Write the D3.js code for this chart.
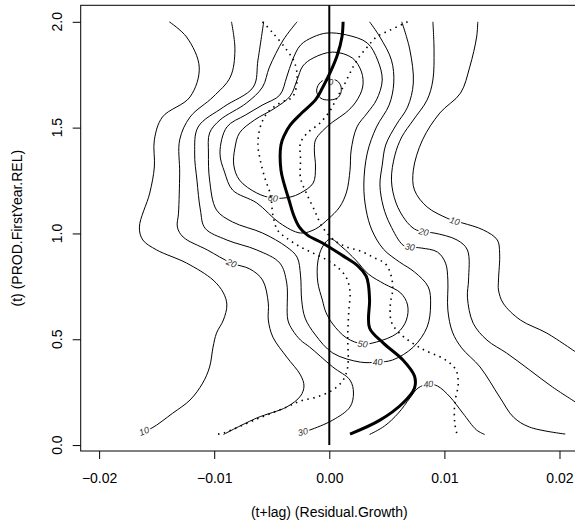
<!DOCTYPE html>
<html>
<head>
<meta charset="utf-8">
<script src="https://cdn.jsdelivr.net/npm/d3@7"></script>
<style>
  body { margin: 0; background: #fff; }
  text { font-family: "Liberation Sans", Arial, Helvetica, sans-serif; }
</style>
</head>
<body>
<svg id="chart" width="575" height="523"></svg>
<script>
// ---- axes ----
const xLim = [-0.02, 0.02];
const yLim = [0.05, 2.0];
const xTicks = [-0.02, -0.01, 0, 0.01, 0.02];
const yTicks = [0, 0.5, 1, 1.5, 2];
const xTitle = "(t+lag) (Residual.Growth)";
const yTitle = "(t) (PROD.FirstYear.REL)";

// ---- density contour lines, [x, y] ----
const level10Left = [[-0.0139,2.000],[-0.0124,1.928],[-0.0113,1.786],[-0.0121,1.645],[-0.0145,1.550],[-0.0152,1.442],[-0.0152,1.314],[-0.0156,1.191],[-0.0165,1.030],[-0.0162,0.969],[-0.0150,0.922],[-0.0124,0.860],[-0.0101,0.780],[-0.0092,0.719],[-0.0089,0.662],[-0.0092,0.591],[-0.0098,0.529],[-0.0101,0.463],[-0.0104,0.369],[-0.0110,0.293],[-0.0121,0.213],[-0.0136,0.151],[-0.0154,0.081],[-0.0161,0.066]];
const level20Left = [[-0.0085,2.000],[-0.0082,1.867],[-0.0086,1.739],[-0.0101,1.645],[-0.0121,1.550],[-0.0130,1.442],[-0.0130,1.285],[-0.0131,1.096],[-0.0132,1.030],[-0.0127,0.983],[-0.0106,0.922],[-0.0085,0.860],[-0.0069,0.832],[-0.0058,0.780],[-0.0053,0.671],[-0.0053,0.591],[-0.0049,0.510],[-0.0037,0.416],[-0.0025,0.331],[-0.0022,0.279],[-0.0025,0.232],[-0.0037,0.180],[-0.0063,0.128],[-0.0092,0.050]];
const level30Left = [[-0.0057,2.000],[-0.0062,1.819],[-0.0066,1.692],[-0.0092,1.597],[-0.0114,1.503],[-0.0117,1.380],[-0.0115,1.252],[-0.0112,1.111],[-0.0108,1.025],[-0.0089,0.969],[-0.0063,0.922],[-0.0043,0.860],[-0.0037,0.766],[-0.0036,0.591],[-0.0032,0.544],[-0.0025,0.496],[-0.0017,0.463],[0.0003,0.369],[0.0018,0.307],[0.0021,0.246],[0.0018,0.180],[0.0003,0.118],[-0.0017,0.071],[-0.0023,0.062]];
const level40 = [[-0.0028,2.000],[-0.0040,1.914],[-0.0052,1.786],[-0.0058,1.692],[-0.0072,1.616],[-0.0095,1.536],[-0.0104,1.475],[-0.0105,1.380],[-0.0104,1.252],[-0.0098,1.111],[-0.0084,1.054],[-0.0058,1.002],[-0.0037,0.936],[-0.0028,0.888],[-0.0025,0.803],[-0.0024,0.685],[-0.0021,0.600],[-0.0012,0.520],[0.0003,0.435],[0.0027,0.392],[0.0042,0.392],[0.0055,0.402],[0.0073,0.463],[0.0085,0.558],[0.0088,0.662],[0.0086,0.747],[0.0074,0.818],[0.0061,0.865],[0.0047,0.926],[0.0037,1.016],[0.0032,1.111],[0.0030,1.229],[0.0033,1.380],[0.0041,1.503],[0.0052,1.607],[0.0056,1.711],[0.0054,1.819],[0.0044,1.928],[0.0035,2.000]];
const level40Cap = [[0.0035,0.050],[0.0048,0.090],[0.0060,0.151],[0.0070,0.222],[0.0077,0.269],[0.0086,0.288],[0.0094,0.279],[0.0105,0.227],[0.0116,0.151],[0.0128,0.071],[0.0135,0.050]];
const level50Upper = [[-0.0095,1.380],[-0.0091,1.290],[-0.0084,1.205],[-0.0063,1.144],[-0.0043,1.049],[-0.0025,1.002],[-0.0012,1.021],[-0.0001,1.068],[0.0009,1.125],[0.0015,1.196],[0.0018,1.299],[0.0019,1.394],[0.0024,1.503],[0.0033,1.569],[0.0041,1.631],[0.0046,1.725],[0.0042,1.819],[0.0033,1.900],[0.0015,1.938],[-0.0002,1.947],[-0.0014,1.928],[-0.0025,1.890],[-0.0032,1.819],[-0.0037,1.739],[-0.0043,1.654],[-0.0058,1.607],[-0.0073,1.559],[-0.0089,1.503]];
const level50Lower = [[-0.0006,0.685],[-0.0010,0.770],[-0.0010,0.865],[-0.0006,0.936],[0.0001,0.974],[0.0011,0.936],[0.0023,0.874],[0.0034,0.808],[0.0048,0.761],[0.0062,0.719],[0.0068,0.662],[0.0067,0.591],[0.0059,0.529],[0.0041,0.487],[0.0029,0.478],[0.0015,0.506],[0.0003,0.572],[-0.0003,0.628]];
const level60 = [[-0.0014,1.829],[0.0003,1.857],[0.0020,1.829],[0.0028,1.763],[0.0029,1.692],[0.0023,1.621],[0.0014,1.569],[0.0003,1.527],[-0.0006,1.484],[-0.0012,1.442],[-0.0013,1.394],[-0.0012,1.314],[-0.0014,1.238],[-0.0025,1.191],[-0.0034,1.172],[-0.0049,1.167],[-0.0063,1.191],[-0.0078,1.252],[-0.0083,1.323],[-0.0082,1.404],[-0.0078,1.475],[-0.0065,1.536],[-0.0047,1.593],[-0.0034,1.649],[-0.0028,1.725],[-0.0023,1.791]];
const level70 = [[-0.0011,1.677],[-0.0009,1.706],[-0.0005,1.725],[0.0001,1.730],[0.0007,1.720],[0.0010,1.697],[0.0010,1.663],[0.0007,1.640],[0.0001,1.631],[-0.0006,1.635],[-0.0010,1.654]];
const level30Right = [[0.0063,2.000],[0.0070,1.867],[0.0073,1.711],[0.0068,1.597],[0.0058,1.512],[0.0049,1.418],[0.0046,1.323],[0.0044,1.229],[0.0047,1.125],[0.0053,1.040],[0.0064,0.945],[0.0070,0.936],[0.0080,0.931],[0.0094,0.912],[0.0101,0.860],[0.0103,0.780],[0.0103,0.638],[0.0107,0.534],[0.0115,0.459],[0.0131,0.369],[0.0148,0.227],[0.0160,0.132],[0.0174,0.085],[0.0205,0.052]];
const level20Right = [[0.0090,2.000],[0.0091,1.867],[0.0090,1.725],[0.0085,1.631],[0.0073,1.536],[0.0063,1.456],[0.0057,1.370],[0.0054,1.252],[0.0058,1.144],[0.0066,1.064],[0.0074,1.021],[0.0082,1.007],[0.0091,1.002],[0.0111,0.969],[0.0120,0.922],[0.0121,0.780],[0.0120,0.699],[0.0125,0.576],[0.0137,0.496],[0.0154,0.435],[0.0174,0.355],[0.0194,0.274],[0.0218,0.189]];
const level10Right = [[0.0129,2.000],[0.0128,1.928],[0.0122,1.786],[0.0114,1.663],[0.0096,1.569],[0.0081,1.442],[0.0073,1.299],[0.0074,1.205],[0.0085,1.125],[0.0102,1.073],[0.0109,1.059],[0.0116,1.049],[0.0134,1.016],[0.0146,0.969],[0.0148,0.907],[0.0147,0.780],[0.0147,0.733],[0.0151,0.671],[0.0166,0.591],[0.0189,0.529],[0.0218,0.425]];

// ---- conditional mode (thick) and quantile bands (dotted) ----
const modePath = [[0.0012,2.000],[0.0011,1.928],[0.0007,1.843],[0.0001,1.763],[-0.0006,1.687],[-0.0012,1.631],[-0.0024,1.569],[-0.0034,1.512],[-0.0039,1.465],[-0.0042,1.418],[-0.0042,1.299],[-0.0039,1.229],[-0.0035,1.158],[-0.0031,1.087],[-0.0026,1.030],[-0.0019,0.992],[-0.0006,0.955],[0.0012,0.894],[0.0025,0.846],[0.0032,0.799],[0.0034,0.756],[0.0035,0.685],[0.0035,0.553],[0.0047,0.482],[0.0064,0.402],[0.0074,0.326],[0.0074,0.269],[0.0064,0.199],[0.0044,0.118],[0.0018,0.052]];
const bandLower = [[-0.0058,2.000],[-0.0049,1.947],[-0.0037,1.867],[-0.0030,1.805],[-0.0028,1.725],[-0.0032,1.645],[-0.0043,1.616],[-0.0054,1.569],[-0.0060,1.503],[-0.0062,1.418],[-0.0060,1.347],[-0.0056,1.262],[-0.0051,1.181],[-0.0049,1.087],[-0.0045,1.016],[-0.0037,0.978],[-0.0025,0.936],[-0.0014,0.907],[-0.0002,0.874],[0.0008,0.836],[0.0015,0.789],[0.0018,0.723],[0.0017,0.638],[0.0016,0.520],[0.0016,0.369],[0.0012,0.307],[0.0003,0.260],[-0.0011,0.227],[-0.0025,0.208],[-0.0037,0.180],[-0.0063,0.123],[-0.0092,0.057],[-0.0099,0.050]];
const bandUpper = [[0.0068,2.000],[0.0053,1.961],[0.0041,1.928],[0.0033,1.881],[0.0024,1.819],[0.0018,1.758],[0.0012,1.692],[0.0007,1.645],[0.0001,1.583],[-0.0008,1.522],[-0.0019,1.475],[-0.0025,1.427],[-0.0025,1.347],[-0.0025,1.262],[-0.0020,1.191],[-0.0013,1.111],[-0.0006,1.030],[0.0004,0.969],[0.0015,0.936],[0.0027,0.917],[0.0038,0.888],[0.0049,0.855],[0.0054,0.794],[0.0055,0.733],[0.0053,0.662],[0.0054,0.581],[0.0061,0.529],[0.0079,0.459],[0.0101,0.402],[0.0110,0.355],[0.0112,0.288],[0.0109,0.199],[0.0109,0.104],[0.0111,0.050]];

// ---- contour table and label placements ----
const contours = [
  { level: 10, pts: level10Left,  closed: false },
  { level: 20, pts: level20Left,  closed: false },
  { level: 30, pts: level30Left,  closed: false },
  { level: 40, pts: level40,      closed: false },
  { level: 40, pts: level40Cap,   closed: false },
  { level: 50, pts: level50Upper, closed: true },
  { level: 50, pts: level50Lower, closed: true },
  { level: 60, pts: level60,      closed: true },
  { level: 70, pts: level70,      closed: true },
  { level: 30, pts: level30Right, closed: false },
  { level: 20, pts: level20Right, closed: false },
  { level: 10, pts: level10Right, closed: false }
];
const labelSpots = [
  { c: 0,  at: [-0.0161, 0.066] },
  { c: 1,  at: [-0.0085, 0.860] },
  { c: 2,  at: [-0.0023, 0.062] },
  { c: 3,  at: [ 0.0042, 0.392] },
  { c: 4,  at: [ 0.0086, 0.288] },
  { c: 6,  at: [ 0.0029, 0.478] },
  { c: 7,  at: [-0.0049, 1.167] },
  { c: 8,  at: [-0.0001, 1.716] },
  { c: 9,  at: [ 0.0070, 0.936] },
  { c: 10, at: [ 0.0082, 1.007] },
  { c: 11, at: [ 0.0109, 1.059] }
];

// ---- layout ----
const W = 575, H = 523;
const plot = { left: 80.7, right: 577.9, top: 5.3, bottom: 451 };
const padX = 0.04 * (xLim[1] - xLim[0]);
const padY = 0.04 * (yLim[1] - yLim[0]);
const x = d3.scaleLinear().domain([xLim[0] - padX, xLim[1] + padX]).range([plot.left, plot.right]);
const y = d3.scaleLinear().domain([yLim[0] - padY, yLim[1] + padY]).range([plot.bottom, plot.top]);

const svg = d3.select("#chart");
svg.append("rect").attr("width", W).attr("height", H).attr("fill", "#fff");

svg.append("defs").append("clipPath").attr("id", "plotClip")
  .append("rect")
  .attr("x", plot.left).attr("y", plot.top)
  .attr("width", plot.right - plot.left).attr("height", plot.bottom - plot.top);

// x axis
const xAxis = d3.axisBottom(x).tickValues(xTicks).tickSize(8).tickPadding(14)
  .tickFormat(d3.format(".2f"));
const gx = svg.append("g").attr("transform", `translate(0,${plot.bottom})`).call(xAxis);
gx.select(".domain").remove();
gx.selectAll("line").attr("stroke", "#000");
gx.selectAll("text").attr("font-size", 14).attr("fill", "#000")
  .attr("font-family", "'Liberation Sans', Arial, sans-serif");

// y axis (labels parallel to the axis)
const yAxis = d3.axisLeft(y).tickValues(yTicks).tickSize(8).tickFormat("");
const gy = svg.append("g").attr("transform", `translate(${plot.left},0)`).call(yAxis);
gy.select(".domain").remove();
gy.selectAll("line").attr("stroke", "#000");
svg.append("g").selectAll("text").data(yTicks).join("text")
  .attr("transform", d => `translate(61.5,${y(d)}) rotate(-90)`)
  .attr("text-anchor", "middle")
  .attr("font-size", 14)
  .text(d3.format(".1f"));

// frame
svg.append("rect")
  .attr("x", plot.left).attr("y", plot.top)
  .attr("width", plot.right - plot.left).attr("height", plot.bottom - plot.top)
  .attr("fill", "none").attr("stroke", "#000").attr("stroke-width", 1);

// titles
svg.append("text").attr("x", (plot.left + plot.right) / 2).attr("y", 517)
  .attr("text-anchor", "middle").attr("font-size", 14).text(xTitle);
svg.append("text")
  .attr("transform", `translate(21.5,${(plot.top + plot.bottom) / 2}) rotate(-90)`)
  .attr("text-anchor", "middle").attr("font-size", 14).text(yTitle);

// plotting layer
const g = svg.append("g").attr("clip-path", "url(#plotClip)");
const lineOpen = d3.line().x(d => x(d[0])).y(d => y(d[1])).curve(d3.curveCatmullRom.alpha(0.5));
const lineClosed = d3.line().x(d => x(d[0])).y(d => y(d[1])).curve(d3.curveCatmullRomClosed.alpha(0.5));

g.append("g").selectAll("path").data(contours).join("path")
  .attr("d", c => (c.closed ? lineClosed : lineOpen)(c.pts))
  .attr("fill", "none").attr("stroke", "#000").attr("stroke-width", 1);

// contour labels, oriented along the local direction of their line
function labelAngle(c, at) {
  const px = c.pts.map(p => [x(p[0]), y(p[1])]);
  const ax = x(at[0]), ay = y(at[1]);
  let best = 0, bd = Infinity;
  px.forEach((p, i) => {
    const d = (p[0] - ax) ** 2 + (p[1] - ay) ** 2;
    if (d < bd) { bd = d; best = i; }
  });
  const n = px.length;
  const i0 = c.closed ? (best - 1 + n) % n : Math.max(best - 1, 0);
  const i1 = c.closed ? (best + 1) % n : Math.min(best + 1, n - 1);
  let a = Math.atan2(px[i1][1] - px[i0][1], px[i1][0] - px[i0][0]) * 180 / Math.PI;
  if (a > 90) a -= 180;
  if (a < -90) a += 180;
  return a;
}
g.append("g").selectAll("text").data(labelSpots).join("text")
  .attr("transform", s => `translate(${x(s.at[0])},${y(s.at[1])}) rotate(${labelAngle(contours[s.c], s.at)})`)
  .attr("text-anchor", "middle")
  .attr("dy", "0.35em")
  .attr("font-size", 9)
  .attr("font-style", "italic")
  .attr("fill", "#333")
  .attr("stroke", "#fff").attr("stroke-width", 3).attr("paint-order", "stroke")
  .text(s => contours[s.c].level);

// quantile bands
g.append("g").selectAll("path").data([bandLower, bandUpper]).join("path")
  .attr("d", lineOpen)
  .attr("fill", "none").attr("stroke", "#000")
  .attr("stroke-width", 1.6).attr("stroke-dasharray", "1.5,4.5");

// zero reference
g.append("line")
  .attr("x1", x(0)).attr("x2", x(0))
  .attr("y1", y(0)).attr("y2", y(y.domain()[1]))
  .attr("stroke", "#000").attr("stroke-width", 2);

// mode path
g.append("path").attr("d", lineOpen(modePath))
  .attr("fill", "none").attr("stroke", "#000").attr("stroke-width", 3)
  .attr("stroke-linejoin", "round");
</script>
</body>
</html>
